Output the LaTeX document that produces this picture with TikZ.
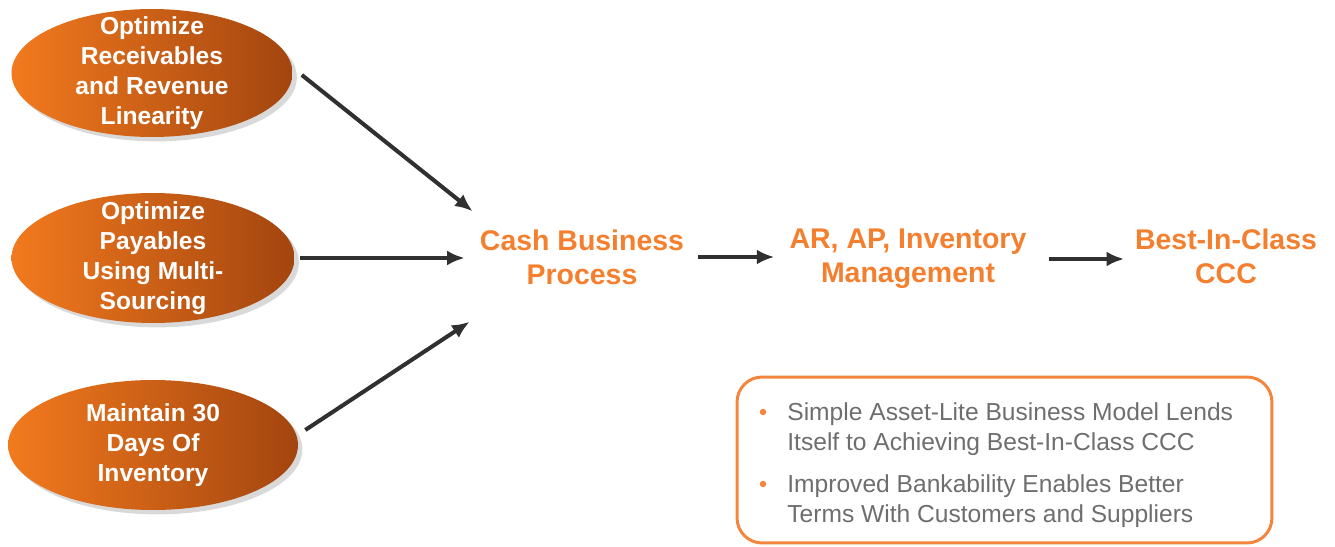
\documentclass[tikz,border=0pt]{standalone}
\usepackage{fontspec}
\setmainfont{Liberation Sans}
\usetikzlibrary{arrows.meta,shapes.geometric,shadows,positioning}

\definecolor{leverorange}{HTML}{F27A1E}
\definecolor{leverdark}{HTML}{A3450F}
\definecolor{stageorange}{HTML}{F47F2E}
\definecolor{boxorange}{HTML}{F4853C}
\definecolor{notegray}{HTML}{6E6E6E}
\definecolor{arrowgray}{HTML}{303030}

\tikzset{
  lever/.style={ellipse, minimum width=5.62cm, minimum height=2.56cm,
    inner xsep=-4pt, inner ysep=-9pt,
    left color=leverorange, right color=leverdark, text=white, align=center,
    font=\bfseries\fontsize{14}{17}\selectfont,
    drop shadow={shadow xshift=2.5pt, shadow yshift=-2.5pt, opacity=0.3}},
  stage/.style={text=stageorange, align=center, inner sep=0pt,
    font=\bfseries\fontsize{16.2}{19.3}\selectfont},
  flow/.style={arrowgray, line width=2.3pt, -{Latex[length=10pt,width=8.5pt]}},
  notebox/.style={draw=boxorange, line width=1.7pt, rounded corners=0.5cm,
    minimum width=10.7cm, minimum height=3.32cm},
  note/.style={text=notegray, align=left, inner sep=0pt, anchor=north west,
    font=\fontsize{14}{17}\selectfont},
  dot/.style={circle, fill=boxorange, inner sep=1.3pt}
}

\begin{document}
\begin{tikzpicture}[x=0.02cm, y=-0.02cm]
\useasboundingbox (0,0) rectangle (1335,547);

% Levers on the left
\node[lever] (recv) at (152,73) {Optimize\\Receivables\\and Revenue\\Linearity};
\node[lever, minimum width=5.66cm, minimum height=2.6cm] (pay) at (153,258) {Optimize\\Payables\\Using Multi-\\Sourcing};
\node[lever, minimum width=5.8cm, minimum height=2.6cm] (inv) at (153,445) {Maintain 30\\Days Of\\Inventory};

% Chain to best-in-class
\node[stage] (cash) at (582,257) {Cash Business\\Process};
\node[stage] (arap) at (908,259) {AR, AP, Inventory\\Management};
\node[stage] (best) at (1226,256) {Best-In-Class\\CCC};

\draw[flow] ([shift={(9,2)}]recv.east) -- ([shift={(-7,-18)}]cash.north west);
\draw[flow, shorten <=3pt, shorten >=8.5pt] (pay.east) -- (cash.west |- pay.east);
\draw[flow] ([shift={(7,-15)}]inv.east) -- ([shift={(-10,37)}]cash.south west);
\draw[flow, shorten <=8pt, shorten >=8.5pt] (cash.east) -- (arap.west |- cash.east);
\draw[flow, shorten <=12.5pt, shorten >=6pt] (arap.east) -- (best.west |- arap.east);

% Notes box
\node[notebox] (notes) at (1004.5,460) {};
\node[dot] (bull1) at (763,412) {};
\node[note] (note1) at (787,402) {Simple Asset-Lite Business Model Lends\\Itself to Achieving Best-In-Class CCC};
\node[dot] (bull2) at (763,484) {};
\node[note] (note2) at (787,474) {Improved Bankability Enables Better\\Terms With Customers and Suppliers};
\end{tikzpicture}
\end{document}
